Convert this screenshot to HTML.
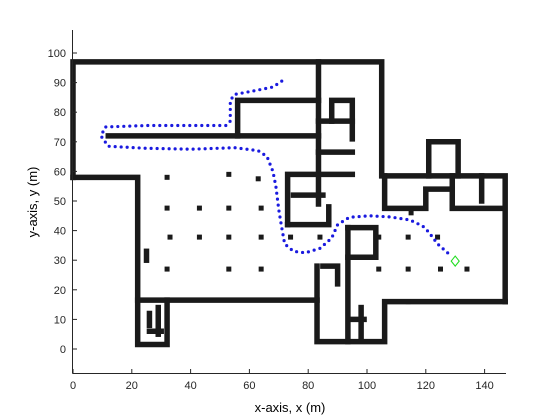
<!DOCTYPE html>
<html><head><meta charset="utf-8"><style>
html,body{margin:0;padding:0;background:#fff;}
svg{display:block;font-family:"Liberation Sans",sans-serif;}
</style></head><body>
<svg id="chart" width="560" height="420" viewBox="0 0 560 420">
<rect width="560" height="420" fill="#fff"/>
<g id="walls"></g>
<g id="obs"></g>
<g id="path"></g>
<g id="axes"></g>
<text x="290" y="412" text-anchor="middle" font-size="13">x-axis, x (m)</text>
<text transform="translate(37,202) rotate(-90)" text-anchor="middle" font-size="13">y-axis, y (m)</text>
</svg>
<script>
const xTicks=[0,20,40,60,80,100,120,140];
const yTicks=[0,10,20,30,40,50,60,70,80,90,100];
// walls as polylines in metres
const wallLines=[
 [[0,58],[0,97],[105,97],[105,58.5],[147,58.5],[147,16]],
 [[0,58],[22,58],[22,1.5],[32,1.5],[32,16.5]],
 [[22,16.5],[83,16.5]],
 [[83,28],[83,2.5],[106,2.5],[106,16],[147,16]],
 [[93.5,2.5],[93.5,41]],
 [[12,72],[83.5,72]],
 [[56,72],[56,84],[83.5,84]],
 [[83.5,97],[83.5,49]],
 [[88,77],[88,84],[95,84],[95,71]],
 [[83.5,77],[95,77]],
 [[83.5,66.5],[95,66.5]],
 [[73,42],[73,59],[95,59]],
 [[73,42],[87,42],[87,48]],
 [[93.5,41],[103,41],[103,31],[93.5,31]],
 [[121,58.5],[121,70],[131,70],[131,58.5]],
 [[106,58.5],[106,47.5],[120,47.5],[120,54],[129,54]],
 [[129,58.5],[129,47.5],[146,47.5]],
 [[139,58.5],[139,50]],
 [[26,12],[26,8]],[[29,14],[29,5]],[[26,6],[30,6]],
 [[98,14],[98,4]],[[95,10],[99,10]],
 [[85,28],[90,28],[90,22]],
 [[75,52],[85,52]],[[25,33],[25,30]]
];
const obsX=[32,43,53,64,33,43,53,64,74,84,104,114,124,32,53,64,104,114,125,134,32,53,63,114,115];
const obsY=[47.6,47.6,47.6,47.6,37.8,37.8,37.8,37.8,37.8,37.8,37.8,37.8,37.8,27,27,27,27,27,27,27,58,59,57.5,16,46];
const pathX=[71,68,63,55,53.5,53.5,52,40,25,11,9.5,12,25,40,55,63,66,68,69,70,71,72,75,79,84,88,90,94,101,108,114.6,119,121,124,128];
const pathY=[90.5,88.5,87.5,86,84,77,75.5,75.5,75.5,75,72,68.5,67.8,67.5,68,67,65,60,55,47,41,35.5,33,32.5,34,37.5,42,44.5,45,44.6,43.6,41.5,39.5,35.5,32];
const goal=[130,29.7];
const sx=v=>73+v*2.94, sy=v=>349-v*2.96;
const NS="http://www.w3.org/2000/svg";
function mk(t,a,p){const e=document.createElementNS(NS,t);for(const k in a)e.setAttribute(k,a[k]);p.appendChild(e);return e;}
const W=document.getElementById('walls');
wallLines.forEach((ln,i)=>{
 const e=mk('polyline',{points:ln.map(p=>sx(p[0])+','+sy(p[1])).join(' '),fill:'none',stroke:'#1a1a1a','stroke-width':5.5,'stroke-linecap':'square','stroke-linejoin':'miter'},W);
 
 
});
const O=document.getElementById('obs');
obsX.forEach((x,i)=>{
 const e=mk('rect',{x:sx(x)-2.5,y:sy(obsY[i])-2.5,width:5,height:5,fill:'#1a1a1a'},O);
 
 
});
const P=document.getElementById('path');
const pl=mk('polyline',{points:pathX.map((x,i)=>sx(x)+','+sy(pathY[i])).join(' '),fill:'none',stroke:'#1a1adf','stroke-width':3.2,'stroke-linecap':'round','stroke-dasharray':'0 6'},P);


const gx=sx(goal[0]),gy=sy(goal[1]);
const gm=mk('polygon',{points:`${gx},${gy-5} ${gx+4},${gy} ${gx},${gy+5} ${gx-4},${gy}`,fill:'none',stroke:'#22dd22','stroke-width':1.1},P);


const A=document.getElementById('axes');
const xa=mk('line',{x1:72.5,y1:373.5,x2:506,y2:373.5,stroke:'#262626','stroke-width':1},A);


const ya=mk('line',{x1:72.5,y1:30,x2:72.5,y2:373.5,stroke:'#262626','stroke-width':1},A);


xTicks.forEach(t=>{
 const x=sx(t);
 const l=mk('line',{x1:x,y1:373.5,x2:x,y2:369,stroke:'#262626'},A);
 
 
 const tx=mk('text',{x:x,y:389,'text-anchor':'middle','font-size':11,fill:'#262626'},A);
 tx.textContent=t;
 
 
});
yTicks.forEach(t=>{
 const y=sy(t);
 const l=mk('line',{x1:72.5,y1:y,x2:77,y2:y,stroke:'#262626'},A);
 
 
 const tx=mk('text',{x:66,y:y+4,'text-anchor':'end','font-size':11,fill:'#262626'},A);
 tx.textContent=t;
 
 
});
</script>
</body></html>
